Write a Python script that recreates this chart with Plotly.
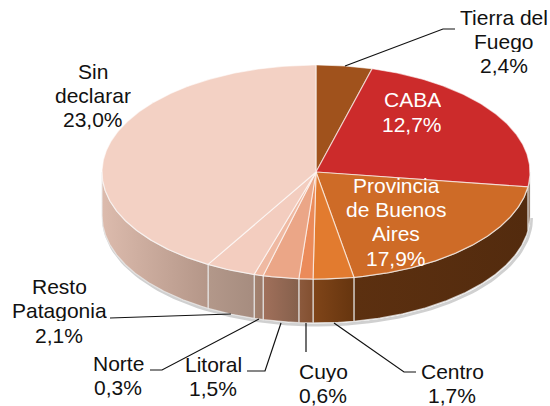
import numpy as np
import plotly.graph_objects as go

regions = ["Tierra del Fuego", "CABA", "Provincia de Buenos Aires", "Centro", "Cuyo",
           "Litoral", "Norte", "Resto Patagonia", "Sin declarar"]
label_values = ["2,4%", "12,7%", "17,9%", "1,7%", "0,6%", "1,5%", "0,3%", "2,1%", "23,0%"]
# drawn share of each slice (degrees of the turn)
slice_spans = [15.2, 82.8, 71.8, 11.0, 3.8, 9.7, 2.5, 13.5, 149.7]
top_colors = ["#A0521C", "#CC2B2B", "#CE6B27", "#E27B2F", "#EB8B5A",
              "#EBA687", "#EFB9A2", "#F3CDBF", "#F3D1C4"]
side_left = ["#5A2F10", "#5A2F10", "#5C3010", "#804519", "#8C5A3D", "#A1705B", "#A4836F", "#B3988A", "#DCBBAD"]
side_right = ["#532B0E", "#532B0E", "#532B0E", "#66350F", "#824F30", "#85604C", "#9C7B6B", "#A68C7F", "#B49688"]

CX, CY, RX, RY, DEPTH = 316, 172, 214, 107, 44


def rim(a):
    t = np.radians(a)
    return CX + RX * np.sin(t), CY - RY * np.cos(t)


fig = go.Figure()
edges = np.concatenate([[0], np.cumsum(slice_spans)])

# soft shadow under the body
sa = np.linspace(90, 270, 91)
sx, sy = rim(sa)
fig.add_trace(go.Scatter(x=sx + 1.5, y=sy + DEPTH + 2, mode="lines",
                         line=dict(color="rgba(150,150,150,0.45)", width=3), hoverinfo="skip"))

# side walls
for i in range(len(slice_spans)):
    a0, a1 = max(edges[i], 90), min(edges[i + 1], 270)
    if a1 <= a0:
        continue
    a = np.linspace(a0, a1, max(int(a1 - a0) * 2, 3))
    x, y = rim(a)
    px = np.concatenate([x, x[::-1], x[:1]])
    py = np.concatenate([y, (y + DEPTH)[::-1], y[:1]])
    # x runs right-to-left as the angle grows past 90 degrees
    fig.add_trace(go.Scatter(
        x=px, y=py, mode="lines", fill="toself",
        fillgradient=dict(type="horizontal",
                          colorscale=[[0, side_left[i]], [1, side_right[i]]],
                          start=float(x.min()), stop=float(x.max())),
        line=dict(color="rgba(235,235,235,0.75)", width=1.3),
        hoverinfo="skip"))

# top faces
for i in range(len(slice_spans)):
    a = np.linspace(edges[i], edges[i + 1], max(int(slice_spans[i]) * 2, 3))
    x, y = rim(a)
    px = np.concatenate([[CX], x, [CX]])
    py = np.concatenate([[CY], y, [CY]])
    fig.add_trace(go.Scatter(x=px, y=py, mode="lines", fill="toself",
                             fillcolor=top_colors[i],
                             line=dict(color="rgba(255,255,255,0.6)", width=1.2),
                             name=regions[i], hoverinfo="skip"))

# leader lines
leaders = [
    ([345, 443, 455], [66, 29, 29]),
    ([334, 404, 416], [323, 372, 372]),
    ([306, 306], [323, 352]),
    ([281, 265, 247], [323, 371, 371]),
    ([259, 162, 150], [319, 370, 370]),
    ([231, 110], [314, 318]),
]
for lx, ly in leaders:
    fig.add_trace(go.Scatter(x=lx, y=ly, mode="lines", line=dict(color="#111111", width=1.2),
                             hoverinfo="skip"))

labels = [
    (["Tierra del", "Fuego", label_values[0]], 504, [17, 41, 65], "#111111"),
    (["CABA", label_values[1]], 412, [99, 124], "#FFFFFF"),
    (["Provincia", "de Buenos", "Aires", label_values[2]], 396, [185, 209, 233, 258], "#FFFFFF"),
    (["Centro", label_values[3]], 452, [371, 395], "#111111"),
    (["Cuyo", label_values[4]], 323, [371, 395], "#111111"),
    (["Litoral", label_values[5]], 213, [364, 388], "#111111"),
    (["Norte", label_values[6]], 118, [363, 387], "#111111"),
    (["Resto", "Patagonia", label_values[7]], 59, [286, 310, 335], "#111111"),
    (["Sin", "declarar", label_values[8]], 93, [71, 95, 119], "#111111"),
]
annotations = []
for lines, ax, ys, col in labels:
    for s, ay in zip(lines, ys):
        annotations.append(dict(x=ax, y=ay, text=s, showarrow=False, xanchor="center", yanchor="middle",
                                height=22, valign="middle",
                                font=dict(family="Liberation Sans", size=21, color=col)))

fig.update_layout(
    width=550, height=406, margin=dict(l=0, r=0, t=0, b=0),
    paper_bgcolor="white", plot_bgcolor="white", showlegend=False,
    xaxis=dict(range=[0, 550], visible=False, fixedrange=True),
    yaxis=dict(range=[406, 0], visible=False, fixedrange=True),
    annotations=annotations,
)
fig.write_html("out.html", config={"displayModeBar": False},
               post_script="document.documentElement.style.overflow='hidden';document.body.style.margin='0';")
